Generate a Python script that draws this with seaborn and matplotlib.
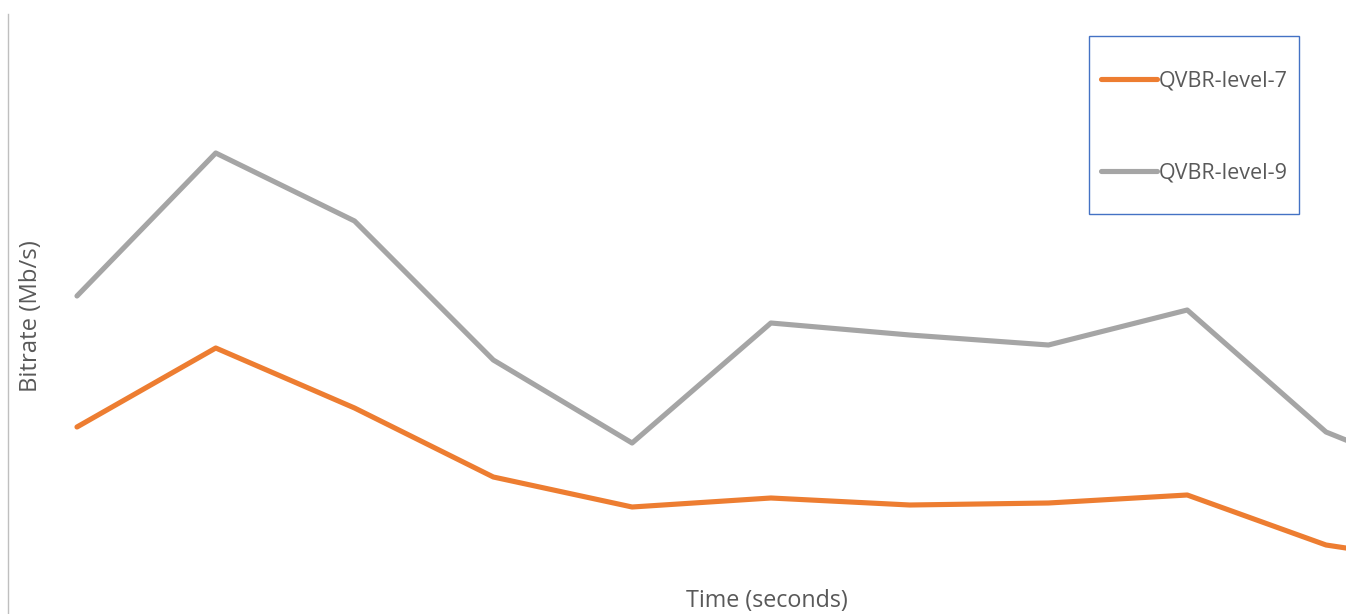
import matplotlib
matplotlib.use("Agg")
import matplotlib.pyplot as plt
from matplotlib.patches import Rectangle
from matplotlib.lines import Line2D
import seaborn as sns
import pandas as pd

# Data (arbitrary Mb/s units)
time_index = [0, 1, 2, 3, 4, 5, 6, 7, 8, 9, 10]
qvbr_level_7 = [1.87, 2.66, 2.06, 1.37, 1.07, 1.16, 1.09, 1.11, 1.19, 0.69, 0.48]
qvbr_level_9 = [3.18, 4.61, 3.93, 2.54, 1.71, 2.91, 2.79, 2.69, 3.04, 1.82, 1.26]
series_names = ["QVBR-level-7", "QVBR-level-9"]
series_colors = ["#ED7D31", "#A5A5A5"]

df = pd.DataFrame({
    "time": time_index * 2,
    "bitrate": qvbr_level_7 + qvbr_level_9,
    "series": [series_names[0]] * len(time_index) + [series_names[1]] * len(time_index),
})

sns.set_style("white")
plt.rcParams["font.family"] = ["Open Sans", "DejaVu Sans"]

W, H = 1346, 614
fig = plt.figure(figsize=(W / 100, H / 100), dpi=100)
ax = fig.add_axes([8 / W, 0, (W - 8) / W, (H - 14) / H])

sns.lineplot(data=df, x="time", y="bitrate", hue="series", palette=series_colors,
             linewidth=3.7, ax=ax, legend=False, solid_capstyle="round")

ax.set_xlim(-0.497, 9.144)
ax.set_ylim(0, 6.0)
ax.set_xticks([])
ax.set_yticks([])
for s in ["top", "right", "bottom"]:
    ax.spines[s].set_visible(False)
ax.spines["left"].set_color("#BFBFBF")
ax.spines["left"].set_linewidth(1.0)

text_color = "#595959"
ax.set_xlabel("Time (seconds)", fontsize=16.8, color=text_color)
ax.xaxis.set_label_coords((767 - 8) / (W - 8), (614 - 601) / (H - 14), transform=ax.transAxes)
ax.xaxis.label.set_verticalalignment("center")
ax.set_ylabel("Bitrate (Mb/s)", fontsize=17.2, color=text_color)
ax.yaxis.set_label_coords((31 - 8) / (W - 8), (614 - 316) / (H - 14), transform=ax.transAxes)
ax.yaxis.label.set_verticalalignment("center")

handles = [Line2D([], [], color=c, linewidth=3.7, solid_capstyle="round") for c in series_colors]
leg = fig.legend(handles, series_names, loc="upper left",
                 bbox_to_anchor=(1101 / W, 1 - 71 / H), bbox_transform=fig.transFigure,
                 frameon=False, borderpad=0, borderaxespad=0, fontsize=15.5,
                 handlelength=2.6, handletextpad=0.1, labelspacing=3.27)
for t in leg.get_texts():
    t.set_color(text_color)

fig.add_artist(Rectangle((1089 / W, 1 - 214 / H), 210 / W, 178 / H,
                         transform=fig.transFigure, fill=False,
                         edgecolor="#4472C4", linewidth=1.0))

fig.savefig("out.png", dpi=100)
